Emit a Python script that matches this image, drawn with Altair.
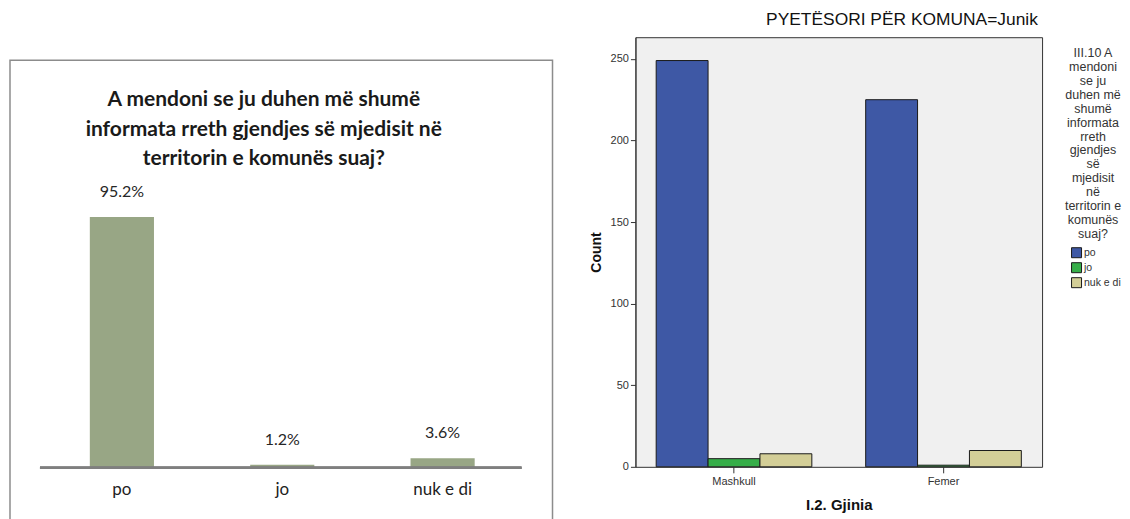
import altair as alt
import pandas as pd

# ---- Left chart data ----
answers = ["po", "jo", "nuk e di"]
percents = [95.2, 1.2, 3.6]
pct_labels = ["95.2%", "1.2%", "3.6%"]

# ---- Right chart data ----
genders = ["Mashkull", "Mashkull", "Mashkull", "Femer", "Femer", "Femer"]
answer_cat = ["po", "jo", "nuk e di", "po", "jo", "nuk e di"]
counts = [249, 5, 8, 225, 1, 10]
y_ticks = [0, 50, 100, 150, 200, 250]

left_title = ["A mendoni se ju duhen më shumë",
              "informata rreth gjendjes së mjedisit në",
              "territorin e komunës suaj?"]
legend_title = ["III.10 A", "mendoni", "se ju", "duhen më", "shumë", "informata",
                "rreth", "gjendjes", "së", "mjedisit", "në", "territorin e",
                "komunës", "suaj?"]
right_title = "PYETËSORI PËR KOMUNA=Junik"

left_df = pd.DataFrame({"answer": answers, "pct": percents, "label": pct_labels})
right_df = pd.DataFrame({"gender": genders, "answer": answer_cat, "count": counts})
frame_df = pd.DataFrame({"title": [left_title]})

LFONT = "Lato"
RFONT = "Liberation Sans"

xl = alt.X("answer:N", sort=answers,
           scale=alt.Scale(range=[31.75, 513.25], paddingInner=0.6, paddingOuter=0.3),
           axis=alt.Axis(title=None, orient="bottom", offset=-41, domain=False, ticks=False,
                         labelAngle=0, labelFont=LFONT, labelFontSize=17, labelColor="#222222",
                         labelPadding=14, zindex=2))
yl = alt.Y("pct:Q", scale=alt.Scale(domain=[-15.55, 163.47], nice=False, zero=False), axis=None)

base_l = alt.Chart(left_df)
frame = alt.Chart(frame_df).mark_rect(filled=False, stroke="#8c8c8c", strokeWidth=1.5).encode(
    x=alt.value(0), x2=alt.value(543), y=alt.value(23), y2=alt.value(490))
title_l = alt.Chart(frame_df).mark_text(
    font=LFONT, fontSize=21, fontWeight="bold", color="#1a1a1a", lineHeight=29.5,
    baseline="top", align="center").encode(
    x=alt.value(254), y=alt.value(52), text="title")
bars_l = base_l.mark_bar(color="#98a685").encode(x=xl, y=yl, y2=alt.datum(0))
text_l = base_l.mark_text(dy=-25, baseline="middle", font=LFONT, fontSize=16,
                          color="#262626").encode(x=xl, y=yl, text="label:N")
axis_line = base_l.mark_rule(color="#7f7f7f", strokeWidth=2.6).encode(
    y=alt.datum(0), x=alt.value(30), x2=alt.value(512))

left = alt.layer(frame, title_l, bars_l, text_l, axis_line).properties(
    width=543, height=472,
    view=alt.ViewBackground(stroke="transparent", fill="white"),
)

right = alt.Chart(right_df).mark_bar(stroke="#1a1a1a", strokeWidth=1).encode(
    x=alt.X("gender:N", sort=["Mashkull", "Femer"],
            scale=alt.Scale(paddingInner=0.257, paddingOuter=0.099),
            axis=alt.Axis(title="I.2. Gjinia", labelAngle=0, labelFont=RFONT, labelFontSize=11,
                          labelColor="#333333", tickSize=6, tickColor="#333333",
                          domain=False, labelPadding=3, titleFont=RFONT, titleFontSize=15,
                          titleFontWeight="bold", titleColor="#111111", titlePadding=11)),
    xOffset=alt.XOffset("answer:N", sort=answers,
                        scale=alt.Scale(paddingInner=0, paddingOuter=0)),
    y=alt.Y("count:Q", scale=alt.Scale(domain=[0, 263.3], nice=False),
            axis=alt.Axis(title="Count", values=y_ticks, grid=False, tickSize=5,
                          tickColor="#333333", domainColor="#333333", labelFont=RFONT,
                          labelFontSize=11, labelColor="#333333", labelPadding=2,
                          titleFont=RFONT, titleFontSize=14, titleFontWeight="bold",
                          titleColor="#111111", titlePadding=7)),
    color=alt.Color("answer:N", sort=answers,
                    scale=alt.Scale(domain=answers, range=["#3E58A5", "#36AE49", "#D3CE97"]),
                    legend=alt.Legend(title=legend_title, orient="none", legendX=1056, legendY=10,
                                      padding=0,
                                      titleFont=RFONT, titleFontSize=12.5, titleFontWeight="normal",
                                      titleColor="#333333", titleAlign="center",
                                      titleAnchor="middle", titleLineHeight=13.9,
                                      titleLimit=200, titlePadding=7,
                                      symbolType="square", symbolSize=100, symbolOffset=6,
                                      symbolStrokeColor="#1a1a1a", symbolStrokeWidth=1,
                                      symbolOpacity=1, labelFont=RFONT, labelFontSize=10.5,
                                      labelColor="#333333", labelOffset=2, rowPadding=0)),
).properties(
    width=407, height=430,
    view=alt.ViewBackground(fill="#f0f0f0", stroke="#333333", strokeWidth=1),
)

chart = alt.hconcat(left, right, spacing=34).properties(
    title=alt.TitleParams(text=right_title, anchor="start", dx=758, font=RFONT, fontSize=17.4,
                          fontWeight="normal", color="#111111", offset=8),
    padding={"left": 0, "top": 3, "right": 0, "bottom": 0}
).configure(background="white")

chart.save("out.html", embed_options={"renderer": "svg", "actions": False})
